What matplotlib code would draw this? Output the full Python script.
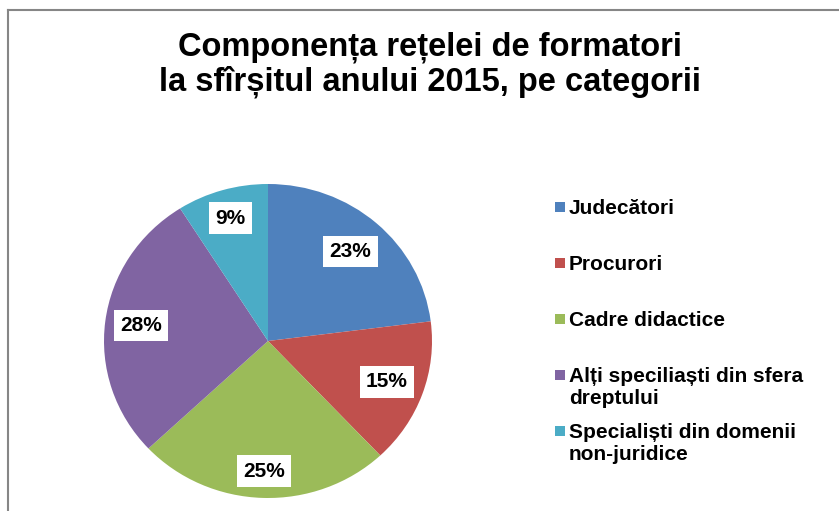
import matplotlib.pyplot as plt
from matplotlib.patches import Rectangle
from matplotlib.lines import Line2D

plt.rcParams['font.family'] = ['Liberation Sans', 'DejaVu Sans']

title = "Componența rețelei de formatori\nla sfîrșitul anului 2015, pe categorii"
categories = ["Judecători", "Procurori", "Cadre didactice",
              "Alți speciliaști din sfera\ndreptului",
              "Specialiști din domenii\nnon-juridice"]
shares = [23, 15, 25, 28, 9]
colors = ["#4F81BD", "#C0504D", "#9BBB59", "#8064A2", "#4BACC6"]
# how far from the centre each percentage label sits (Excel "best fit")
label_dist = [0.76, 0.77, 0.83, 0.78, 0.815]

W, H = 839, 511
fig = plt.figure(figsize=(W / 100, H / 100), dpi=100)

# chart area border (left and top edge visible)
fig.add_artist(Line2D([7.5 / W, 7.5 / W], [0, 1 - 10.5 / H], transform=fig.transFigure,
                      color="#868686", lw=1.5))
fig.add_artist(Line2D([7.5 / W, 1], [1 - 10.5 / H, 1 - 10.5 / H], transform=fig.transFigure,
                      color="#868686", lw=1.5))

fig.text(430 / W, 1 - 65 / H, title, ha="center", va="center", fontsize=23.5,
         fontweight="bold", linespacing=1.1)

cx, cy, rx, ry = 268, 341, 164, 157
ax = fig.add_axes([(cx - rx) / W, (H - cy - ry) / H, 2 * rx / W, 2 * ry / H])
wedges, texts, autotexts = ax.pie(shares, colors=colors, startangle=90, counterclock=False,
                                  autopct="%d%%", pctdistance=1.0, radius=1,
                                  wedgeprops=dict(linewidth=0))
ax.set_aspect("auto")
ax.set_xlim(-1, 1)
ax.set_ylim(-1, 1)
ax.axis("off")
for t, d in zip(autotexts, label_dist):
    x, y = t.get_position()
    t.set_position((x * d, y * d))
    t.set_fontsize(15)
    t.set_fontweight("bold")
    t.set_color("black")
    t.set_bbox(dict(facecolor="white", edgecolor="none", boxstyle="square,pad=0.3"))

# legend, drawn by hand so the marker sits on the first line like in Excel
for i, (lab, c) in enumerate(zip(categories, colors)):
    base = 214 + 56 * i
    fig.add_artist(Rectangle((555 / W, 1 - (base - 2) / H), 10 / W, 10 / H,
                             transform=fig.transFigure, facecolor=c, edgecolor="none"))
    for j, line in enumerate(lab.split("\n")):
        fig.text(569 / W, 1 - (base + 22 * j) / H, line, ha="left", va="baseline",
                 fontsize=15, fontweight="bold")

fig.savefig("out.png", dpi=100)
